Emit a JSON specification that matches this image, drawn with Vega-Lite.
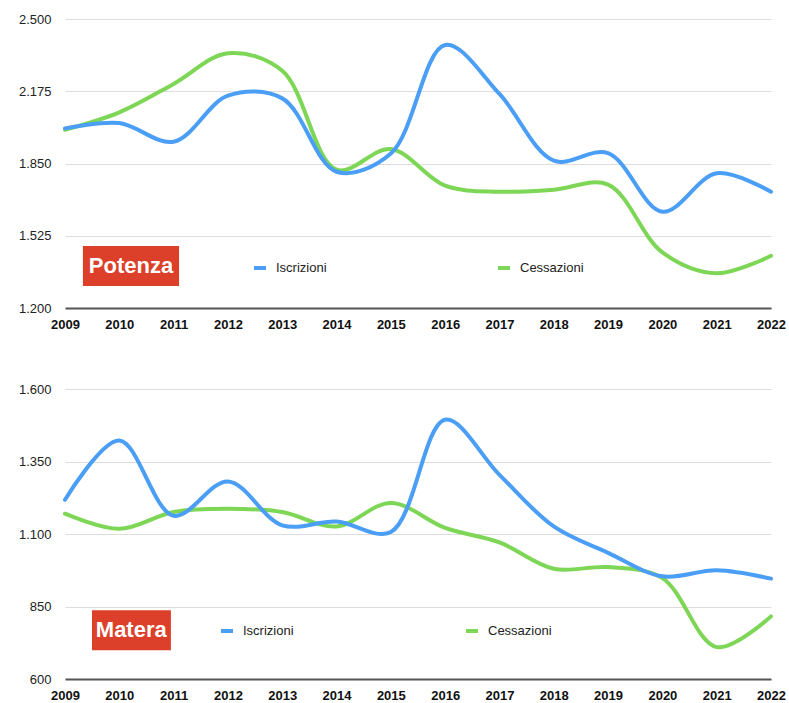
{
  "$schema": "https://vega.github.io/schema/vega-lite/v6.json",
  "background": "white",
  "padding": {"left": 18, "top": 13, "right": 5, "bottom": 5},
  "spacing": 52,
  "config": {
    "view": {"stroke": null},
    "font": "Liberation Sans",
    "axis": {"labelFont": "Liberation Sans", "title": null}
  },
  "datasets": {
    "d": [
      {"city": "Potenza", "serie": "Cessazioni", "year": 2009, "value": 2002},
      {"city": "Potenza", "serie": "Cessazioni", "year": 2010, "value": 2080},
      {"city": "Potenza", "serie": "Cessazioni", "year": 2011, "value": 2208},
      {"city": "Potenza", "serie": "Cessazioni", "year": 2012, "value": 2346},
      {"city": "Potenza", "serie": "Cessazioni", "year": 2013, "value": 2267},
      {"city": "Potenza", "serie": "Cessazioni", "year": 2014, "value": 1822},
      {"city": "Potenza", "serie": "Cessazioni", "year": 2015, "value": 1915},
      {"city": "Potenza", "serie": "Cessazioni", "year": 2016, "value": 1750},
      {"city": "Potenza", "serie": "Cessazioni", "year": 2017, "value": 1723},
      {"city": "Potenza", "serie": "Cessazioni", "year": 2018, "value": 1732},
      {"city": "Potenza", "serie": "Cessazioni", "year": 2019, "value": 1755},
      {"city": "Potenza", "serie": "Cessazioni", "year": 2020, "value": 1450},
      {"city": "Potenza", "serie": "Cessazioni", "year": 2021, "value": 1356},
      {"city": "Potenza", "serie": "Cessazioni", "year": 2022, "value": 1435},
      {"city": "Potenza", "serie": "Iscrizioni", "year": 2009, "value": 2008},
      {"city": "Potenza", "serie": "Iscrizioni", "year": 2010, "value": 2032},
      {"city": "Potenza", "serie": "Iscrizioni", "year": 2011, "value": 1948},
      {"city": "Potenza", "serie": "Iscrizioni", "year": 2012, "value": 2155},
      {"city": "Potenza", "serie": "Iscrizioni", "year": 2013, "value": 2143},
      {"city": "Potenza", "serie": "Iscrizioni", "year": 2014, "value": 1813},
      {"city": "Potenza", "serie": "Iscrizioni", "year": 2015, "value": 1895},
      {"city": "Potenza", "serie": "Iscrizioni", "year": 2016, "value": 2383},
      {"city": "Potenza", "serie": "Iscrizioni", "year": 2017, "value": 2163},
      {"city": "Potenza", "serie": "Iscrizioni", "year": 2018, "value": 1863},
      {"city": "Potenza", "serie": "Iscrizioni", "year": 2019, "value": 1897},
      {"city": "Potenza", "serie": "Iscrizioni", "year": 2020, "value": 1633},
      {"city": "Potenza", "serie": "Iscrizioni", "year": 2021, "value": 1806},
      {"city": "Potenza", "serie": "Iscrizioni", "year": 2022, "value": 1723},
      {"city": "Matera", "serie": "Cessazioni", "year": 2009, "value": 1170},
      {"city": "Matera", "serie": "Cessazioni", "year": 2010, "value": 1118},
      {"city": "Matera", "serie": "Cessazioni", "year": 2011, "value": 1176},
      {"city": "Matera", "serie": "Cessazioni", "year": 2012, "value": 1187},
      {"city": "Matera", "serie": "Cessazioni", "year": 2013, "value": 1176},
      {"city": "Matera", "serie": "Cessazioni", "year": 2014, "value": 1126},
      {"city": "Matera", "serie": "Cessazioni", "year": 2015, "value": 1207},
      {"city": "Matera", "serie": "Cessazioni", "year": 2016, "value": 1121},
      {"city": "Matera", "serie": "Cessazioni", "year": 2017, "value": 1071},
      {"city": "Matera", "serie": "Cessazioni", "year": 2018, "value": 980},
      {"city": "Matera", "serie": "Cessazioni", "year": 2019, "value": 986},
      {"city": "Matera", "serie": "Cessazioni", "year": 2020, "value": 948},
      {"city": "Matera", "serie": "Cessazioni", "year": 2021, "value": 710},
      {"city": "Matera", "serie": "Cessazioni", "year": 2022, "value": 816},
      {"city": "Matera", "serie": "Iscrizioni", "year": 2009, "value": 1218},
      {"city": "Matera", "serie": "Iscrizioni", "year": 2010, "value": 1422},
      {"city": "Matera", "serie": "Iscrizioni", "year": 2011, "value": 1163},
      {"city": "Matera", "serie": "Iscrizioni", "year": 2012, "value": 1281},
      {"city": "Matera", "serie": "Iscrizioni", "year": 2013, "value": 1130},
      {"city": "Matera", "serie": "Iscrizioni", "year": 2014, "value": 1143},
      {"city": "Matera", "serie": "Iscrizioni", "year": 2015, "value": 1107},
      {"city": "Matera", "serie": "Iscrizioni", "year": 2016, "value": 1494},
      {"city": "Matera", "serie": "Iscrizioni", "year": 2017, "value": 1304},
      {"city": "Matera", "serie": "Iscrizioni", "year": 2018, "value": 1126},
      {"city": "Matera", "serie": "Iscrizioni", "year": 2019, "value": 1035},
      {"city": "Matera", "serie": "Iscrizioni", "year": 2020, "value": 954},
      {"city": "Matera", "serie": "Iscrizioni", "year": 2021, "value": 975},
      {"city": "Matera", "serie": "Iscrizioni", "year": 2022, "value": 946}
    ]
  },
  "resolve": {"legend": {"color": "independent"}, "scale": {"y": "independent"}},
  "vconcat": [
    {
      "width": 706,
      "height": 289,
      "layer": [
        {
          "data": {"name": "d"},
          "transform": [{"filter": "datum.city === 'Potenza'"}],
          "mark": {"type": "line", "interpolate": "catmull-rom", "strokeWidth": 4, "strokeCap": "round"},
          "encoding": {
            "x": {"field": "year", "type": "quantitative",
              "scale": {"domain": [2009, 2022], "nice": false, "zero": false},
              "axis": {"values": [2009,2010,2011,2012,2013,2014,2015,2016,2017,2018,2019,2020,2021,2022], "format": "d", "grid": false, "ticks": false, "domainColor": "#555555", "domainWidth": 2, "labelFontSize": 13, "labelFontWeight": "bold", "labelColor": "#111111", "labelPadding": 10, "labelFlush": false}},
            "y": {"field": "value", "type": "quantitative",
              "scale": {"domain": [1200, 2500], "nice": false, "zero": false},
              "axis": {"values": [1200, 1525, 1850, 2175, 2500], "labelExpr": "replace(format(datum.value, ','), /,/g, '.')", "domain": false, "ticks": false, "gridColor": "#dddddd", "gridWidth": 1, "labelFontSize": 13, "labelColor": "#222222", "labelPadding": 14}},
            "color": {"field": "serie", "type": "nominal",
              "scale": {"domain": ["Iscrizioni", "Cessazioni"], "range": ["#4A9EF5", "#7DD655"]},
              "legend": {"title": null, "orient": "none", "legendX": 187, "legendY": 241, "direction": "horizontal", "symbolType": "stroke", "symbolSize": 144, "symbolStrokeWidth": 4, "labelFontSize": 13, "labelColor": "#222222", "labelOffset": 8, "columnPadding": 163, "padding": 0}}
          }
        },
        {
          "data": {"values": [{}]},
          "mark": {"type": "rect", "color": "#DC3F2A"},
          "encoding": {"x": {"datum": 2009.33}, "x2": {"datum": 2011.10}, "y": {"datum": 1299}, "y2": {"datum": 1479}}
        },
        {
          "data": {"values": [{}]},
          "mark": {"type": "text", "text": "Potenza", "color": "white", "fontSize": 22, "fontWeight": "bold", "align": "center", "baseline": "middle"},
          "encoding": {"x": {"datum": 2010.215}, "y": {"datum": 1389}}
        }
      ]
    },
    {
      "width": 706,
      "height": 290,
      "layer": [
        {
          "data": {"name": "d"},
          "transform": [{"filter": "datum.city === 'Matera'"}],
          "mark": {"type": "line", "interpolate": "catmull-rom", "strokeWidth": 4, "strokeCap": "round"},
          "encoding": {
            "x": {"field": "year", "type": "quantitative",
              "scale": {"domain": [2009, 2022], "nice": false, "zero": false},
              "axis": {"values": [2009,2010,2011,2012,2013,2014,2015,2016,2017,2018,2019,2020,2021,2022], "format": "d", "grid": false, "ticks": false, "domainColor": "#555555", "domainWidth": 2, "labelFontSize": 13, "labelFontWeight": "bold", "labelColor": "#111111", "labelPadding": 10, "labelFlush": false}},
            "y": {"field": "value", "type": "quantitative",
              "scale": {"domain": [600, 1600], "nice": false, "zero": false},
              "axis": {"values": [600, 850, 1100, 1350, 1600], "labelExpr": "replace(format(datum.value, ','), /,/g, '.')", "domain": false, "ticks": false, "gridColor": "#dddddd", "gridWidth": 1, "labelFontSize": 13, "labelColor": "#222222", "labelPadding": 14}},
            "color": {"field": "serie", "type": "nominal",
              "scale": {"domain": ["Iscrizioni", "Cessazioni"], "range": ["#4A9EF5", "#7DD655"]},
              "legend": {"title": null, "orient": "none", "legendX": 154, "legendY": 234, "direction": "horizontal", "symbolType": "stroke", "symbolSize": 144, "symbolStrokeWidth": 4, "labelFontSize": 13, "labelColor": "#222222", "labelOffset": 8, "columnPadding": 164, "padding": 0}}
          }
        },
        {
          "data": {"values": [{}]},
          "mark": {"type": "rect", "color": "#DC3F2A"},
          "encoding": {"x": {"datum": 2009.497}, "x2": {"datum": 2010.95}, "y": {"datum": 699}, "y2": {"datum": 837}}
        },
        {
          "data": {"values": [{}]},
          "mark": {"type": "text", "text": "Matera", "color": "white", "fontSize": 22, "fontWeight": "bold", "align": "center", "baseline": "middle"},
          "encoding": {"x": {"datum": 2010.22}, "y": {"datum": 768}}
        }
      ]
    }
  ]
}
